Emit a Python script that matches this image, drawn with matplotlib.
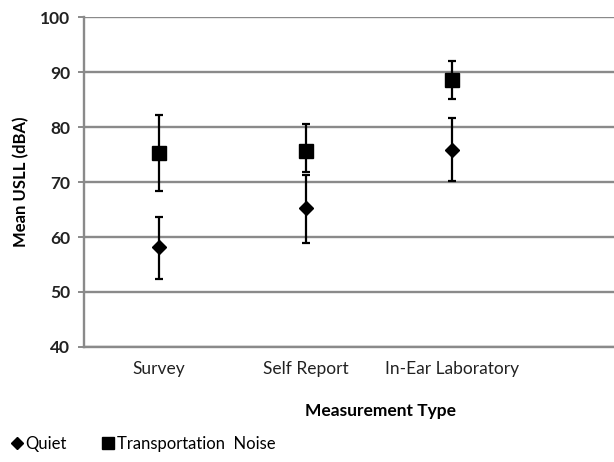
import numpy as np
import matplotlib
matplotlib.use("Agg")
import matplotlib.pyplot as plt
from matplotlib.lines import Line2D

plt.rcParams['font.family'] = ['Lato', 'DejaVu Sans']

# data
categories = ["Survey", "Self Report", "In-Ear Laboratory"]
quiet_mean = [58.1, 65.3, 75.8]
quiet_lo = [52.4, 59.0, 70.1]
quiet_hi = [63.7, 71.3, 81.6]
transport_mean = [75.2, 75.7, 88.5]
transport_lo = [68.4, 71.9, 85.1]
transport_hi = [82.2, 80.5, 92.1]
y_ticks = [40, 50, 60, 70, 80, 90, 100]

fig = plt.figure(figsize=(6.14, 4.62), dpi=100)
# plot area runs past the right edge like the cropped original
ax = fig.add_axes([0.137, 0.249, 0.95, 0.714])
ax.patch.set_edgecolor('none')

x = np.arange(len(categories))
q_err = [np.array(quiet_mean) - np.array(quiet_lo), np.array(quiet_hi) - np.array(quiet_mean)]
t_err = [np.array(transport_mean) - np.array(transport_lo), np.array(transport_hi) - np.array(transport_mean)]

ax.errorbar(x, quiet_mean, yerr=q_err, fmt='D', color='black', ms=7,
            elinewidth=1.6, capsize=3, capthick=1.6, zorder=3)
ax.errorbar(x, transport_mean, yerr=t_err, fmt='s', color='black', ms=10,
            elinewidth=1.6, capsize=3, capthick=1.6, zorder=3)

ax.set_ylim(40, 100)
ax.set_xlim(-0.512, 3.47)
ax.set_yticks(y_ticks)
ax.set_xticks(x)
ax.set_xticklabels(categories)
ax.yaxis.grid(True, color='#8a8a8a', linewidth=1.7, solid_capstyle='butt')
ax.xaxis.grid(False)
ax.set_axisbelow(True)

for s in ['top', 'right']:
    ax.spines[s].set_visible(False)
    ax.spines[s].set_color('none')
for s in ['left', 'bottom']:
    ax.spines[s].set_color('#8a8a8a')
    ax.spines[s].set_linewidth(1.7)

ax.tick_params(axis='x', length=0, pad=10, labelsize=12.5, colors='#222222')
ax.tick_params(axis='y', length=4, width=1.4, color='#8a8a8a', pad=6,
               labelsize=12.5, labelcolor='#222222', right=False)
for lab in ax.get_yticklabels():
    lab.set_fontweight('bold')

ax.set_ylabel("Mean USLL (dBA)", fontsize=12, fontweight='bold', labelpad=8)
ax.set_xlabel("Measurement Type", fontsize=12.5, fontweight='bold')
ax.xaxis.set_label_coords(0.508, -0.17)

handles = [Line2D([], [], marker='D', color='black', ls='none', ms=6),
           Line2D([], [], marker='s', color='black', ls='none', ms=8)]
fig.legend(handles, ["Quiet", "Transportation  Noise"], loc='lower left',
           bbox_to_anchor=(-0.005, -0.01), ncol=2, frameon=False,
           fontsize=12, handlelength=0.6, handletextpad=0.2, columnspacing=2.2)

fig.savefig("out.png", dpi=100)
